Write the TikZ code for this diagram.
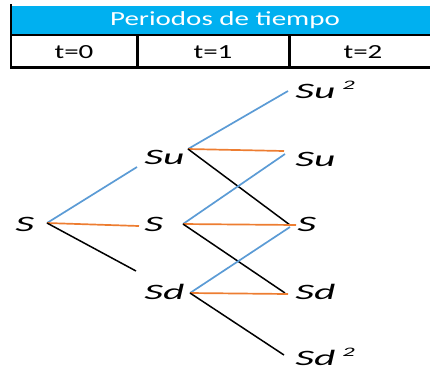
\documentclass[tikz,border=0pt]{standalone}
\usepackage{fontspec}
\setmainfont{Carlito}
\usetikzlibrary{positioning}
\definecolor{headblue}{RGB}{0,176,240}
\definecolor{upblue}{RGB}{91,155,213}
\definecolor{midorange}{RGB}{237,125,49}
\newcommand{\sq}{\,\raisebox{0.42em}{\fontsize{13}{13}\selectfont 2}}
\begin{document}
\begin{tikzpicture}[x=1pt,y=-1pt, every node/.style={font=\fontsize{20}{24}\selectfont, xscale=1.45, inner sep=2pt},
    price/.style={font=\fontsize{22}{26}\selectfont\itshape, xscale=1.3, anchor=west, inner sep=1pt},
    upline/.style={draw=upblue, line width=1.7pt},
    midline/.style={draw=midorange, line width=1.7pt},
    downline/.style={draw=black, line width=1.5pt}]
    \clip (0,0) rectangle (430,376);
    % table of periods
    \fill[headblue] (12,6) rectangle (438,34);
    \node[white] (head) at (225,20) {Periodos de tiempo};
    \node (t0) at (74,52.5) {t=0};
    \node (t1) at (213,52.5) {t=1};
    \node (t2) at (363,52.5) {t=2};
    \draw[line width=2pt] (11,4) -- (11,69);
    \draw[line width=2pt] (10,35) -- (438,35);
    \draw[line width=3pt] (10,67.5) -- (438,67.5);
    \draw[line width=3pt] (137.5,35) -- (137.5,67);
    \draw[line width=3pt] (289.5,35) -- (289.5,67);
    % tree
    \node[price] (s0) at (13,224) {S};
    \node[price] (su1) at (142,157) {Su};
    \node[price] (s1) at (142,224) {S};
    \node[price] (sd1) at (142,292) {Sd};
    \node[price] (suu2) at (293,90) {Su\sq};
    \node[price] (su2) at (293,159) {Su};
    \node[price] (s2) at (295,224) {S};
    \node[price] (sd2) at (293,292) {Sd};
    \node[price] (sdd2) at (293,357) {Sd\sq};
    \coordinate (b0) at (47,223);
    \coordinate (bu) at (188,149);
    \coordinate (bm) at (183,224);
    \coordinate (bd) at (190,293);
    \coordinate (su1in) at (137,167);
    \coordinate (s1in) at (139,226);
    \coordinate (sd1in) at (136,271);
    \coordinate (suu2in) at (288,91);
    \coordinate (su2in) at (284,151);
    \coordinate (su2inb) at (285,154);
    \coordinate (s2in) at (290,225);
    \coordinate (s2inb) at (296,225);
    \coordinate (s2inc) at (290,227);
    \coordinate (sd2in) at (285,293);
    \coordinate (sd2inb) at (288,294);
    \coordinate (sdd2in) at (284,355);
    \draw[upline] (b0) -- (su1in);
    \draw[midline] (b0) -- (s1in);
    \draw[downline] (b0) -- (sd1in);
    \draw[upline] (bu) -- (suu2in);
    \draw[midline] (bu) -- (su2in);
    \draw[downline] (bu) -- (s2in);
    \draw[upline] (bm) -- (su2inb);
    \draw[midline] (bm) -- (s2inb);
    \draw[downline] (bm) -- (sd2in);
    \draw[upline] (bd) -- (s2inc);
    \draw[midline] (bd) -- (sd2inb);
    \draw[downline] (bd) -- (sdd2in);
\end{tikzpicture}
\end{document}
